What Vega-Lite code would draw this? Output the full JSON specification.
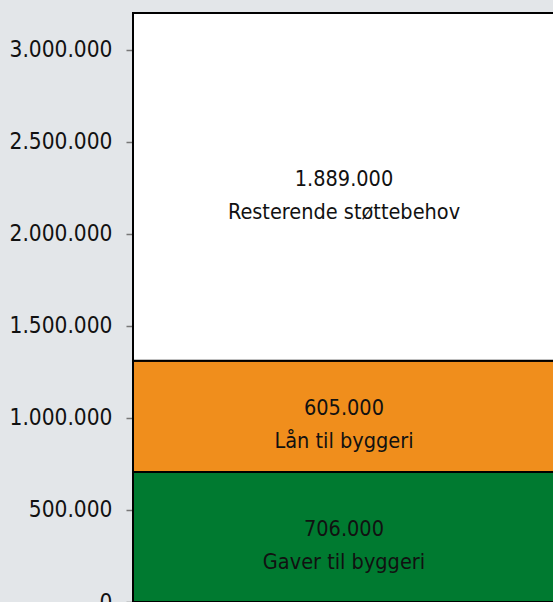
{
  "$schema": "https://vega.github.io/schema/vega-lite/v6.json",
  "autosize": "none",
  "width": 422,
  "height": 589,
  "padding": {"left": 133, "top": 13, "right": 0, "bottom": 0},
  "background": "#e3e6e9",
  "config": {
    "locale": {"number": {"decimal": ",", "thousands": ".", "grouping": [3], "currency": ["", " kr"]}},
    "view": {"stroke": null, "fill": "#ffffff"},
    "font": "DejaVu Sans Condensed"
  },
  "data": {
    "values": [
      {"cat": "Støtte", "order": 1, "value": 706000, "label": "Gaver til byggeri", "color": "green"},
      {"cat": "Støtte", "order": 2, "value": 605000, "label": "Lån til byggeri", "color": "orange"},
      {"cat": "Støtte", "order": 3, "value": 1889000, "label": "Resterende støttebehov", "color": "white"}
    ]
  },
  "transform": [
    {"stack": "value", "groupby": ["cat"], "sort": [{"field": "order"}], "as": ["v0", "v1"]},
    {"calculate": "(datum.v0 + datum.v1) / 2", "as": "mid"}
  ],
  "encoding": {
    "x": {"field": "cat", "type": "nominal", "axis": null, "scale": {"paddingInner": 0, "paddingOuter": 0}}
  },
  "layer": [
    {
      "mark": {"type": "bar", "stroke": "#000000", "strokeWidth": 2},
      "encoding": {
        "y": {
          "field": "v0", "type": "quantitative",
          "scale": {"domain": [0, 3200000], "nice": false},
          "axis": {
            "values": [0, 500000, 1000000, 1500000, 2000000, 2500000, 3000000],
            "format": ",d", "title": null, "grid": false, "domain": false,
            "tickColor": "#777777", "tickSize": 7, "tickWidth": 1.5,
            "labelFontSize": 22.5, "labelColor": "#111111", "labelPadding": 14,
            "labelFont": "DejaVu Sans Condensed"
          }
        },
        "y2": {"field": "v1"},
        "color": {
          "field": "color", "type": "nominal", "legend": null,
          "scale": {"domain": ["green", "orange", "white"], "range": ["#007a30", "#f08e1c", "#ffffff"]}
        }
      }
    },
    {
      "mark": {"type": "text", "fontSize": 21.5, "dy": -7, "color": "#111111", "font": "DejaVu Sans Condensed"},
      "encoding": {
        "y": {"field": "mid", "type": "quantitative"},
        "text": {"field": "value", "type": "quantitative", "format": ",d"}
      }
    },
    {
      "mark": {"type": "text", "fontSize": 21.5, "dy": 26, "color": "#111111", "font": "DejaVu Sans Condensed"},
      "encoding": {
        "y": {"field": "mid", "type": "quantitative"},
        "text": {"field": "label", "type": "nominal"}
      }
    }
  ]
}
